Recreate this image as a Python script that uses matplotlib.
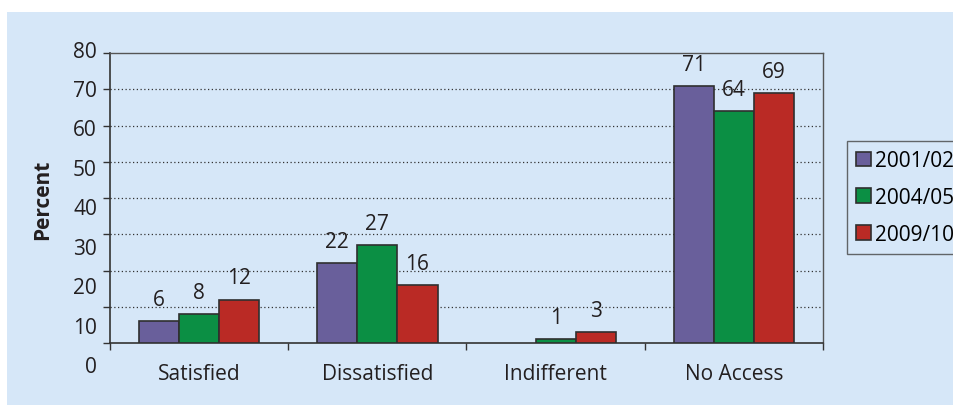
import matplotlib.pyplot as plt
import numpy as np
from matplotlib.patches import Rectangle

plt.rcParams["font.family"] = ["Open Sans", "DejaVu Sans"]

categories = ["Satisfied", "Dissatisfied", "Indifferent", "No Access"]
years = ["2001/02", "2004/05", "2009/10"]
values = {
    "2001/02": [6, 22, 0, 71],
    "2004/05": [8, 27, 1, 64],
    "2009/10": [12, 16, 3, 69],
}
colors = ["#695f9b", "#0b8f44", "#ba2a25"]
ytick_values = [0, 10, 20, 30, 40, 50, 60, 70, 80]

W, H = 954, 406
bg = "#d6e7f8"
edge = "#2f2f2f"
txt = "#231f20"
fs = 15

fig = plt.figure(figsize=(W / 100, H / 100), dpi=100)
fig.patch.set_facecolor("white")
fig.add_artist(Rectangle((7 / W, 0), 1, 1 - 13 / H, transform=fig.transFigure,
                         facecolor=bg, edgecolor="none", zorder=-10))

# plot area in pixels: x 110..823, y 54..344
ax = fig.add_axes([110 / W, 1 - 344 / H, 713 / W, 290 / H])
ax.set_facecolor(bg)

x = np.arange(len(categories))
bw = 0.225
for i, (yr, c) in enumerate(zip(years, colors)):
    vals = np.array(values[yr])
    pos = x + (i - 1) * bw
    keep = vals > 0
    ax.bar(pos[keep], vals[keep], bw, color=c, edgecolor=edge, linewidth=1.2,
           label=yr, zorder=3)
    for p, v in zip(pos[keep], vals[keep]):
        ax.annotate(str(v), (p, v), xytext=(0, 8), textcoords="offset points",
                    ha="center", va="bottom", fontsize=fs, color=txt,
                    zorder=4)

ax.set_xlim(-0.5, len(categories) - 0.5)
ax.set_ylim(0, 80)

# dotted gridlines
for v in ytick_values[1:-1]:
    ax.axhline(v, color="#333333", linestyle=(0, (1, 2)), linewidth=0.9,
               zorder=1)

ax.set_yticks(ytick_values)
ax.set_yticklabels([])
ax.tick_params(axis="y", length=5, width=1, color="#333333", direction="out")
# y labels sit on their own evenly spaced rows
for k, v in enumerate(ytick_values):
    ypix = 368 - k * (368 - 52) / (len(ytick_values) - 1)
    fig.text(97 / W, 1 - ypix / H, str(v), ha="right", va="center",
             fontsize=fs, color=txt)

ax.set_xticks(np.arange(len(categories) + 1) - 0.5)
ax.set_xticklabels([])
ax.tick_params(axis="x", length=5, width=1, color="#333333", direction="out")
for xi, name in zip(x, categories):
    ax.text(xi, -0.105, name, transform=ax.get_xaxis_transform(),
            ha="center", va="center", fontsize=fs, color=txt)

for side in ["left", "bottom"]:
    ax.spines[side].set_color("#333333")
    ax.spines[side].set_linewidth(1.2)
for side in ["top", "right"]:
    ax.spines[side].set_color("#555555")
    ax.spines[side].set_linewidth(1.0)

fig.text(43 / W, 1 - 200 / H, "Percent", rotation=90, ha="center",
         va="center", fontsize=fs, fontweight="bold", color=txt)

leg = fig.legend(loc="upper left", bbox_to_anchor=(847 / W, 1 - 142 / H),
                 frameon=True, fancybox=False, fontsize=fs,
                 handlelength=0.7, handleheight=0.7, handletextpad=0.2,
                 labelspacing=0.75, borderpad=0.45, borderaxespad=0)
leg.get_frame().set_facecolor(bg)
leg.get_frame().set_edgecolor("#444444")
leg.get_frame().set_linewidth(1.0)

fig.savefig("out.png", dpi=100, facecolor=fig.get_facecolor())
